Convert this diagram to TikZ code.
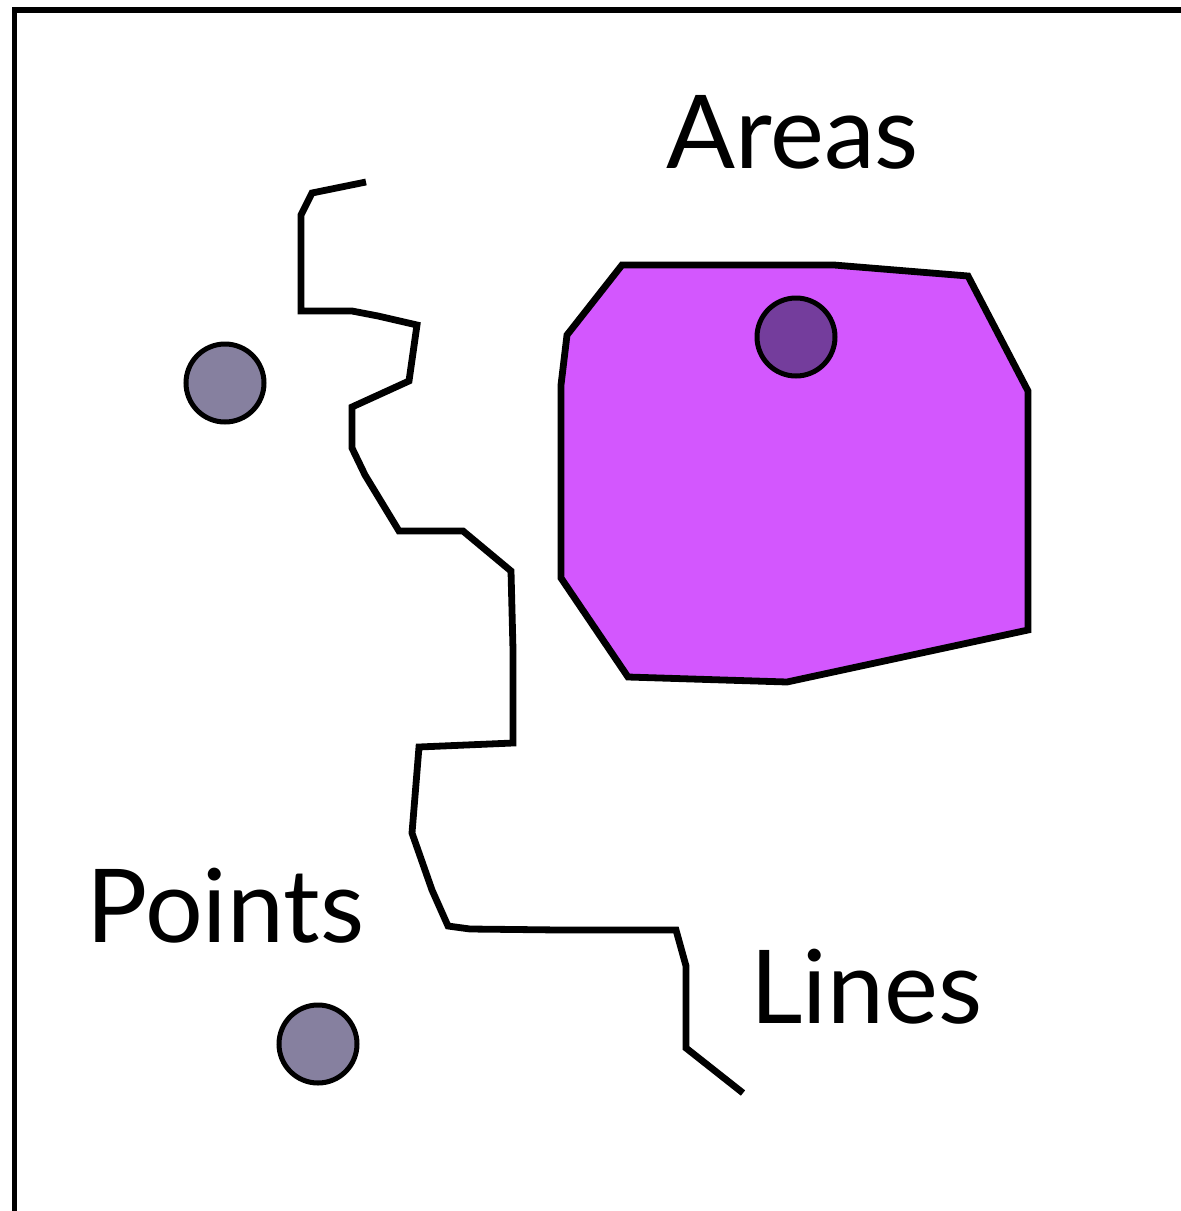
\documentclass[tikz,border=0pt]{standalone}
\usepackage{fontspec}
\setmainfont{Lato}
\definecolor{pointgrey}{rgb}{0.525,0.502,0.624}
\definecolor{areaviolet}{rgb}{0.827,0.341,0.996}
\definecolor{pointdeep}{rgb}{0.455,0.239,0.612}
\tikzset{
  ptdot/.style={circle,draw=black,line width=2.5pt,minimum size=39pt,inner sep=0pt},
  lbl/.style={anchor=base west,inner sep=0pt,font=\fontsize{51}{60}\selectfont}
}
\begin{document}
\begin{tikzpicture}[x=0.5pt,y=-0.5pt]
\useasboundingbox (0,0) rectangle (1180,1211);
\draw[black,line width=2.7pt] (14.5,1215) |- (1185,10);
% area
\fill[areaviolet] (622,265) -- (834,265) -- (968,276) -- (1028,391) -- (1028,630) -- (787,682) -- (628,677) -- (561,578) -- (561,385) -- (567,335) -- cycle;
\draw[black,line width=3.4pt,line join=miter] (622,265) -- (834,265) -- (968,276) -- (1028,391) -- (1028,630) -- (787,682) -- (628,677) -- (561,578) -- (561,385) -- (567,335) -- cycle;
% line
\draw[black,line width=3.4pt] (366,182) -- (312,193) -- (301,215) -- (301,311) -- (352,311) -- (378,316) -- (417,325) -- (409,381) -- (352,407) -- (352,448) -- (365,475) -- (399,531) -- (463,531) -- (511,571) -- (513,650) -- (513,743) -- (419,747) -- (412,833) -- (432,890) -- (448,926) -- (470,929) -- (560,930) -- (676,930) -- (686,966) -- (686,1048) -- (743,1093);
% points
\node[ptdot,fill=pointgrey] (ptA) at (225,383) {};
\node[ptdot,fill=pointgrey] (ptB) at (318,1044) {};
\node[ptdot,fill=pointdeep] (ptC) at (796,337) {};
% labels
\node[lbl] (areas) at (666,168) {Areas};
\node[lbl] (points) at (86,942) {Points};
\node[lbl] (lines) at (750,1023) {Lines};
\end{tikzpicture}
\end{document}
